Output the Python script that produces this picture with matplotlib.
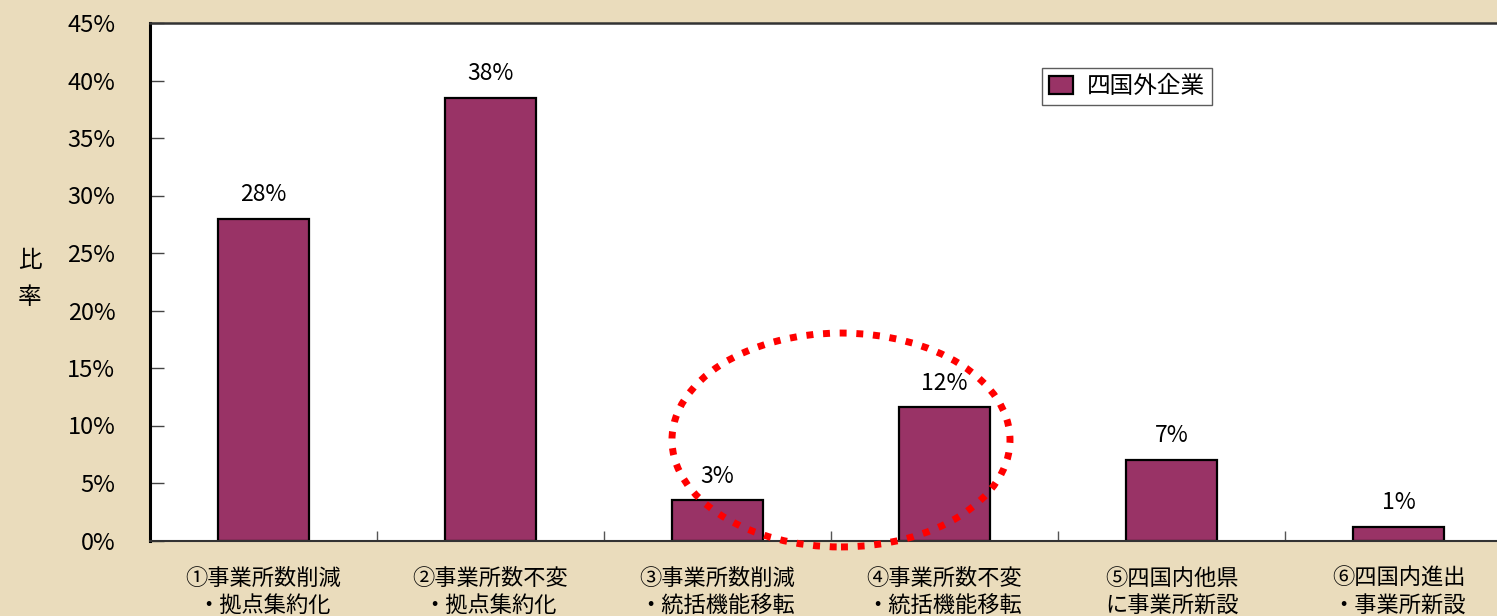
import matplotlib
matplotlib.use("Agg")
import matplotlib.pyplot as plt
from matplotlib.patches import Ellipse
from matplotlib.ticker import FixedLocator

plt.rcParams['font.family'] = ['Noto Sans CJK JP', 'DejaVu Sans']

categories = [
    "①事業所数削減\n・拠点集約化",
    "②事業所数不変\n・拠点集約化",
    "③事業所数削減\n・統括機能移転",
    "④事業所数不変\n・統括機能移転",
    "⑤四国内他県\nに事業所新設",
    "⑥四国内進出\n・事業所新設",
]
values = [28.0, 38.5, 3.5, 11.6, 7.0, 1.2]
value_labels = ["28%", "38%", "3%", "12%", "7%", "1%"]
series_name = "四国外企業"
y_ticks = [0, 5, 10, 15, 20, 25, 30, 35, 40, 45]
y_tick_labels = [f"{v}%" for v in y_ticks]

bar_color = "#993366"
bg_color = "#EADCBC"

fig = plt.figure(figsize=(14.97, 6.16), dpi=100)
fig.patch.set_facecolor(bg_color)
ax = fig.add_axes([150/1497, 75.5/616, 1362/1497, 517.5/616])
ax.set_facecolor("white")

x = list(range(len(categories)))
ax.bar(x, values, width=0.4, color=bar_color, edgecolor="black",
       linewidth=1.6, label=series_name, zorder=2)

for xi, v, lab in zip(x, values, value_labels):
    ax.annotate(lab, (xi, v), xytext=(0, 9), textcoords="offset points",
                ha="center", va="bottom", fontsize=16.5)

ax.set_xlim(-0.5, 5.5)
ax.set_ylim(0, 45)
ax.yaxis.set_major_locator(FixedLocator(y_ticks))
ax.set_yticklabels(y_tick_labels, fontsize=17)
ax.tick_params(axis="y", direction="in", length=10, width=1, pad=25, colors="#444444",
               labelcolor="black")

ax.set_xticks(x)
ax.set_xticklabels(categories, fontsize=16, linespacing=1.25)
ax.tick_params(axis="x", which="major", length=0, pad=19, labelcolor="black")
ax.xaxis.set_minor_locator(FixedLocator([0.5, 1.5, 2.5, 3.5, 4.5]))
ax.tick_params(axis="x", which="minor", direction="in", length=7, width=1, colors="#555555")

ax.spines["left"].set_linewidth(2.2)
ax.spines["left"].set_color("black")
ax.spines["top"].set_linewidth(1.8)
ax.spines["top"].set_color("#333333")
ax.spines["bottom"].set_linewidth(1.5)
ax.spines["bottom"].set_color("#333333")
ax.spines["right"].set_visible(False)

ax.set_ylabel("比\n率", rotation=0, fontsize=17, linespacing=1.75, va="center")
ax.yaxis.set_label_coords(-0.0885, 0.505)

# highlight ellipse around ③ and ④
ell = Ellipse((2.544, 8.74), width=1.489, height=18.6, fill=False,
              edgecolor="#FF0000", linewidth=5.0, linestyle=(0, (1, 1.4)),
              clip_on=False, zorder=5)
ell.set_capstyle("butt")
ax.add_patch(ell)

leg = ax.legend(loc="upper left", bbox_to_anchor=(1042/1497, 1 - 68/616),
                bbox_transform=fig.transFigure, fontsize=17, frameon=True,
                fancybox=False, edgecolor="#333333", handlelength=1.0,
                handleheight=0.8, borderpad=0.3, handletextpad=0.6,
                borderaxespad=0)
leg.get_frame().set_linewidth(1.0)

fig.savefig("out.png", dpi=100, facecolor=fig.get_facecolor())
